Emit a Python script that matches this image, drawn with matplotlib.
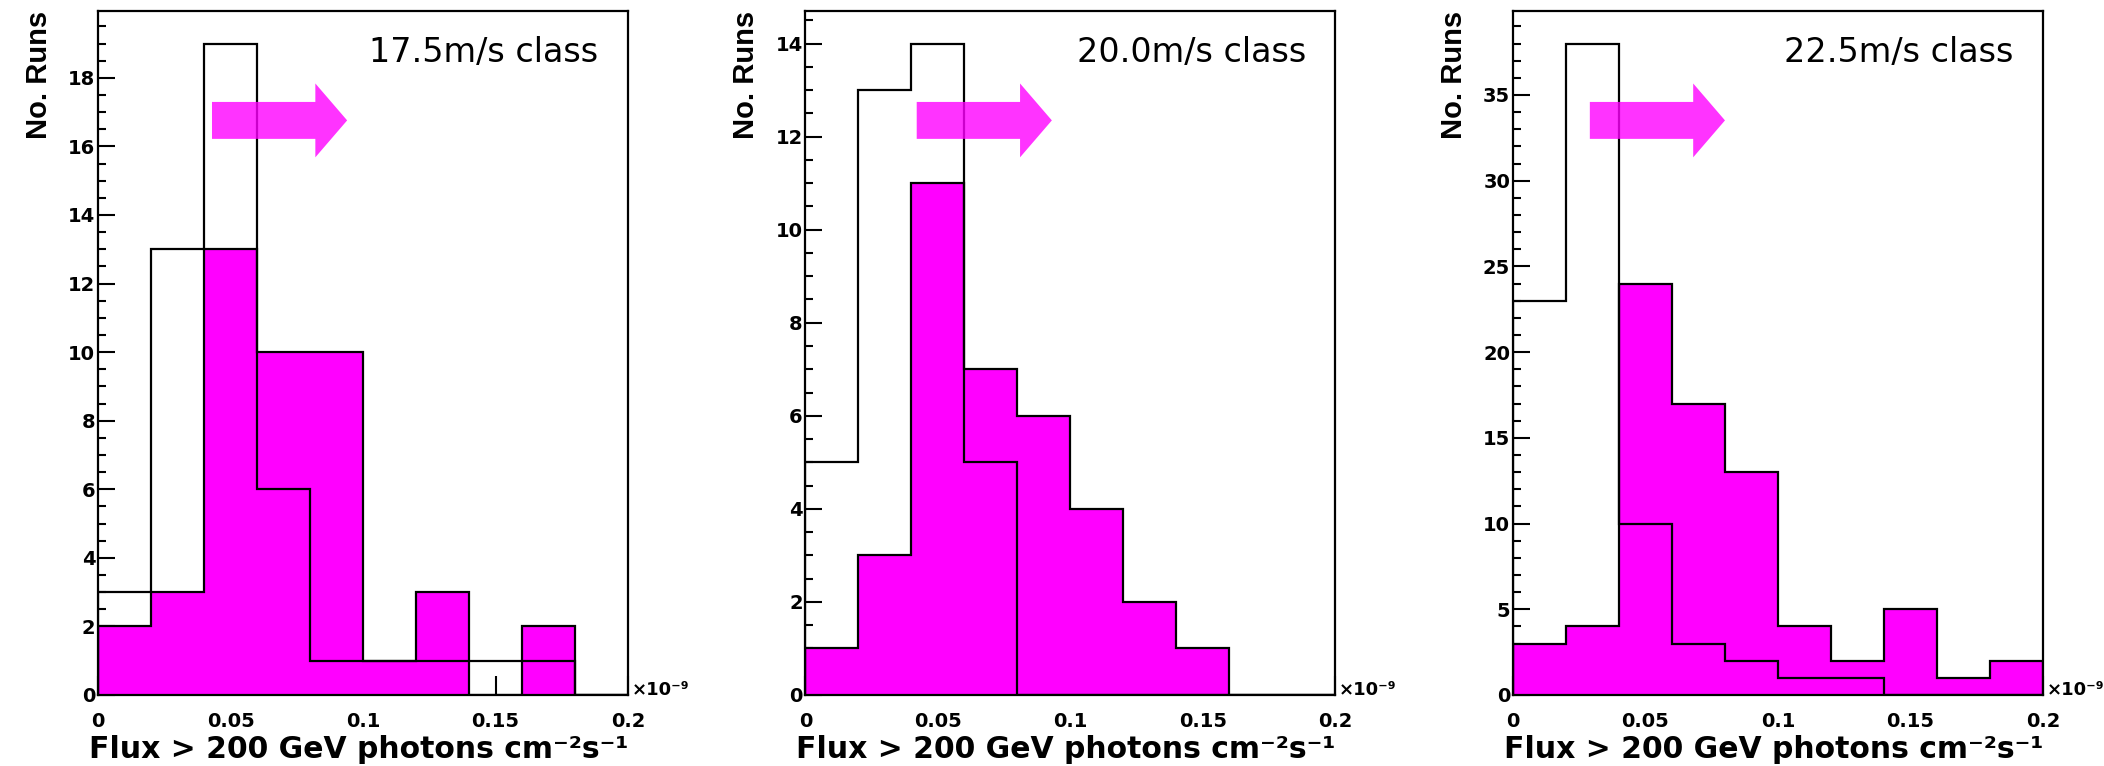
import numpy as np
import matplotlib
matplotlib.use('Agg')
import matplotlib.pyplot as plt
from matplotlib.patches import Polygon
from matplotlib.ticker import MultipleLocator, FormatStrFormatter, NullLocator
from matplotlib.transforms import blended_transform_factory

# data: run counts per flux bin (units of 1e-9 photons cm^-2 s^-1)
bin_edges = [0.0, 0.02, 0.04, 0.06, 0.08, 0.10, 0.12, 0.14, 0.16, 0.18, 0.20]
class_labels = ['17.5m/s class', '20.0m/s class', '22.5m/s class']

open_175 = [3, 13, 19, 6, 1, 1, 1, 1, 1, 0]
fill_175 = [2, 3, 13, 10, 10, 1, 3, 0, 2, 0]
open_200 = [5, 13, 14, 5, 0, 0, 0, 0, 0, 0]
fill_200 = [1, 3, 11, 7, 6, 4, 2, 1, 0, 0]
open_225 = [23, 38, 10, 3, 2, 1, 1, 0, 0, 0]
fill_225 = [3, 4, 24, 17, 13, 4, 2, 5, 1, 2]

open_hists = [open_175, open_200, open_225]
fill_hists = [fill_175, fill_200, fill_225]

arrow_start = [0.043, 0.042, 0.029]
y_major = [2, 2, 5]
y_minor = [0.5, 0.5, 1]

x_ticks = [0, 0.05, 0.1, 0.15, 0.2]

plt.rcParams['font.family'] = 'DejaVu Sans'

fig = plt.figure(figsize=(21.04, 7.66), dpi=100)

lefts = [0.0466, 0.3828, 0.7191]
magenta = '#ff00ff'

for i in range(3):
    ax = fig.add_axes([lefts[i], 0.0927, 0.2519, 0.893])
    ax.set_axisbelow(True)
    vals_open = open_hists[i]
    vals_fill = fill_hists[i]

    ax.stairs(vals_fill, bin_edges, fill=True, facecolor=magenta, edgecolor='none', zorder=1)
    ax.stairs(vals_fill, bin_edges, color='black', lw=1.6, zorder=2)
    ax.stairs(vals_open, bin_edges, color='black', lw=1.6, zorder=3)

    ymax = 1.05 * max(max(vals_open), max(vals_fill))
    ax.set_xlim(0, 0.2)
    ax.set_ylim(0, ymax)

    ax.set_xticks(x_ticks)
    ax.xaxis.set_major_formatter(FormatStrFormatter('%g'))
    ax.xaxis.set_minor_locator(NullLocator())
    ax.yaxis.set_major_locator(MultipleLocator(y_major[i]))
    ax.yaxis.set_minor_locator(MultipleLocator(y_minor[i]))

    ax.tick_params(axis='x', which='major', direction='in', length=14, width=1.5,
                   pad=12, labelsize=14, top=False)
    ax.tick_params(axis='y', which='major', direction='in', length=12, width=1.5,
                   pad=2, labelsize=14, right=False)
    ax.tick_params(axis='y', which='minor', direction='in', length=6, width=1.5, right=False)
    for lab in ax.get_xticklabels() + ax.get_yticklabels():
        lab.set_fontweight('bold')

    for sp in ax.spines.values():
        sp.set_linewidth(1.6)
        sp.set_zorder(5)

    # arrow showing selection direction
    tr = blended_transform_factory(ax.transData, ax.transAxes)
    x0 = arrow_start[i]
    xb = x0 + 0.039
    xt = x0 + 0.051
    yc, bh, hh = 0.840, 0.027, 0.054
    arrow = Polygon([(x0, yc - bh), (xb, yc - bh), (xb, yc - hh), (xt, yc),
                     (xb, yc + hh), (xb, yc + bh), (x0, yc + bh)],
                    closed=True, transform=tr, facecolor=magenta, edgecolor='none',
                    alpha=0.8, zorder=4)
    ax.add_patch(arrow)

    ax.text(0.512, 0.925, class_labels[i], transform=ax.transAxes, fontsize=24,
            ha='left', va='baseline')

    ax.text(-0.112, 1.0, 'No. Runs', transform=ax.transAxes, rotation=90,
            ha='center', va='top', fontsize=21, fontweight='bold',
            family='Liberation Sans')
    ax.text(1.0, -0.092, 'Flux > 200 GeV photons cm\u207b\u00b2s\u207b\u00b9',
            transform=ax.transAxes, ha='right', va='baseline', fontsize=21.5,
            fontweight='bold')
    ax.text(1.007, 0.0, '\u00d710\u207b\u2079', transform=ax.transAxes,
            ha='left', va='baseline', fontsize=13, fontweight='bold')

plt.savefig('out.png', dpi=100)
